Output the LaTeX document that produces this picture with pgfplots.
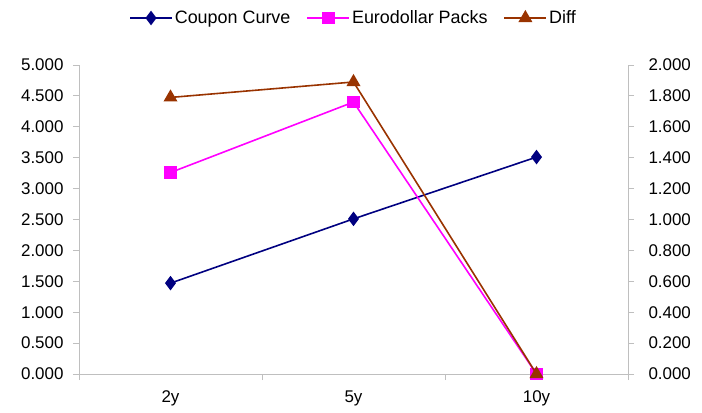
\documentclass[border=0pt]{standalone}
\usepackage{pgfplots}
\pgfplotsset{compat=1.18}
\usepackage{fontspec}
\setmainfont{Liberation Sans}
\definecolor{cc}{RGB}{0,0,128}
\definecolor{ed}{RGB}{255,0,255}
\definecolor{df}{RGB}{153,51,0}
\definecolor{axgray}{RGB}{191,191,191}
\pgfplotsset{
  common/.style={
    scale only axis, width=549bp, height=309bp,
    xmin=-0.5, xmax=2.5,
    axis line style={axgray, line width=0.8bp},
    tick style={axgray, line width=0.8bp},
    major tick length=6bp,
    tick align=outside,
    font=\fontsize{17}{20}\selectfont,
    /pgf/number format/assume math mode=true,
    /pgf/number format/.cd, fixed, fixed zerofill, precision=3, 1000 sep={},
  },
}
\begin{document}
\begin{tikzpicture}
\begin{axis}[common,
  axis y line*=left, axis x line*=bottom,
  ymin=0, ymax=5, ytick={0,0.5,...,5.01},
  yticklabel style={xshift=-6bp},
  xtick={-0.5,0.5,1.5,2.5}, xticklabels={},
  extra x ticks={0,1,2}, extra x tick labels={2y,5y,10y},
  extra x tick style={major tick length=0pt, xticklabel style={yshift=-13bp}},
  legend style={at={(0.5,1.152)}, anchor=center, draw=none, legend columns=3,
    font=\fontsize{18}{20}\selectfont,
    /tikz/every even column/.append style={column sep=14bp},
    /tikz/every odd column/.append style={column sep=0bp}},
  legend image code/.code={
    \draw[mark repeat=2, mark phase=2, line width=1.6bp]
      plot coordinates {(0bp,0bp) (21bp,0bp) (42bp,0bp)};},
  legend cell align=left,
]
\addplot[cc, line width=1.6bp, mark=diamond*, mark size=6bp] coordinates {(0,1.47) (1,2.51) (2,3.51)};
\addlegendentry{Coupon Curve}
\addplot[ed, line width=1.6bp, mark=square*, mark size=5.5bp] coordinates {(0,3.26) (1,4.40) (2,0.0)};
\addlegendentry{Eurodollar Packs}
\addlegendimage{df, line width=1.6bp, mark=triangle*, mark size=6.5bp}
\addlegendentry{Diff}
\end{axis}
\begin{axis}[common,
  axis y line*=right, axis x line=none,
  ymin=0, ymax=2, ytick={0,0.2,...,2.01},
  yticklabel style={xshift=11bp},
]
\addplot[df, line width=1.6bp, mark=triangle*, mark size=6.5bp] coordinates {(0,1.79) (1,1.89) (2,0.0)};
\end{axis}
\pgfresetboundingbox
\path[use as bounding box] (-79bp,-39bp) rectangle (623bp,374bp);
\end{tikzpicture}
\end{document}
